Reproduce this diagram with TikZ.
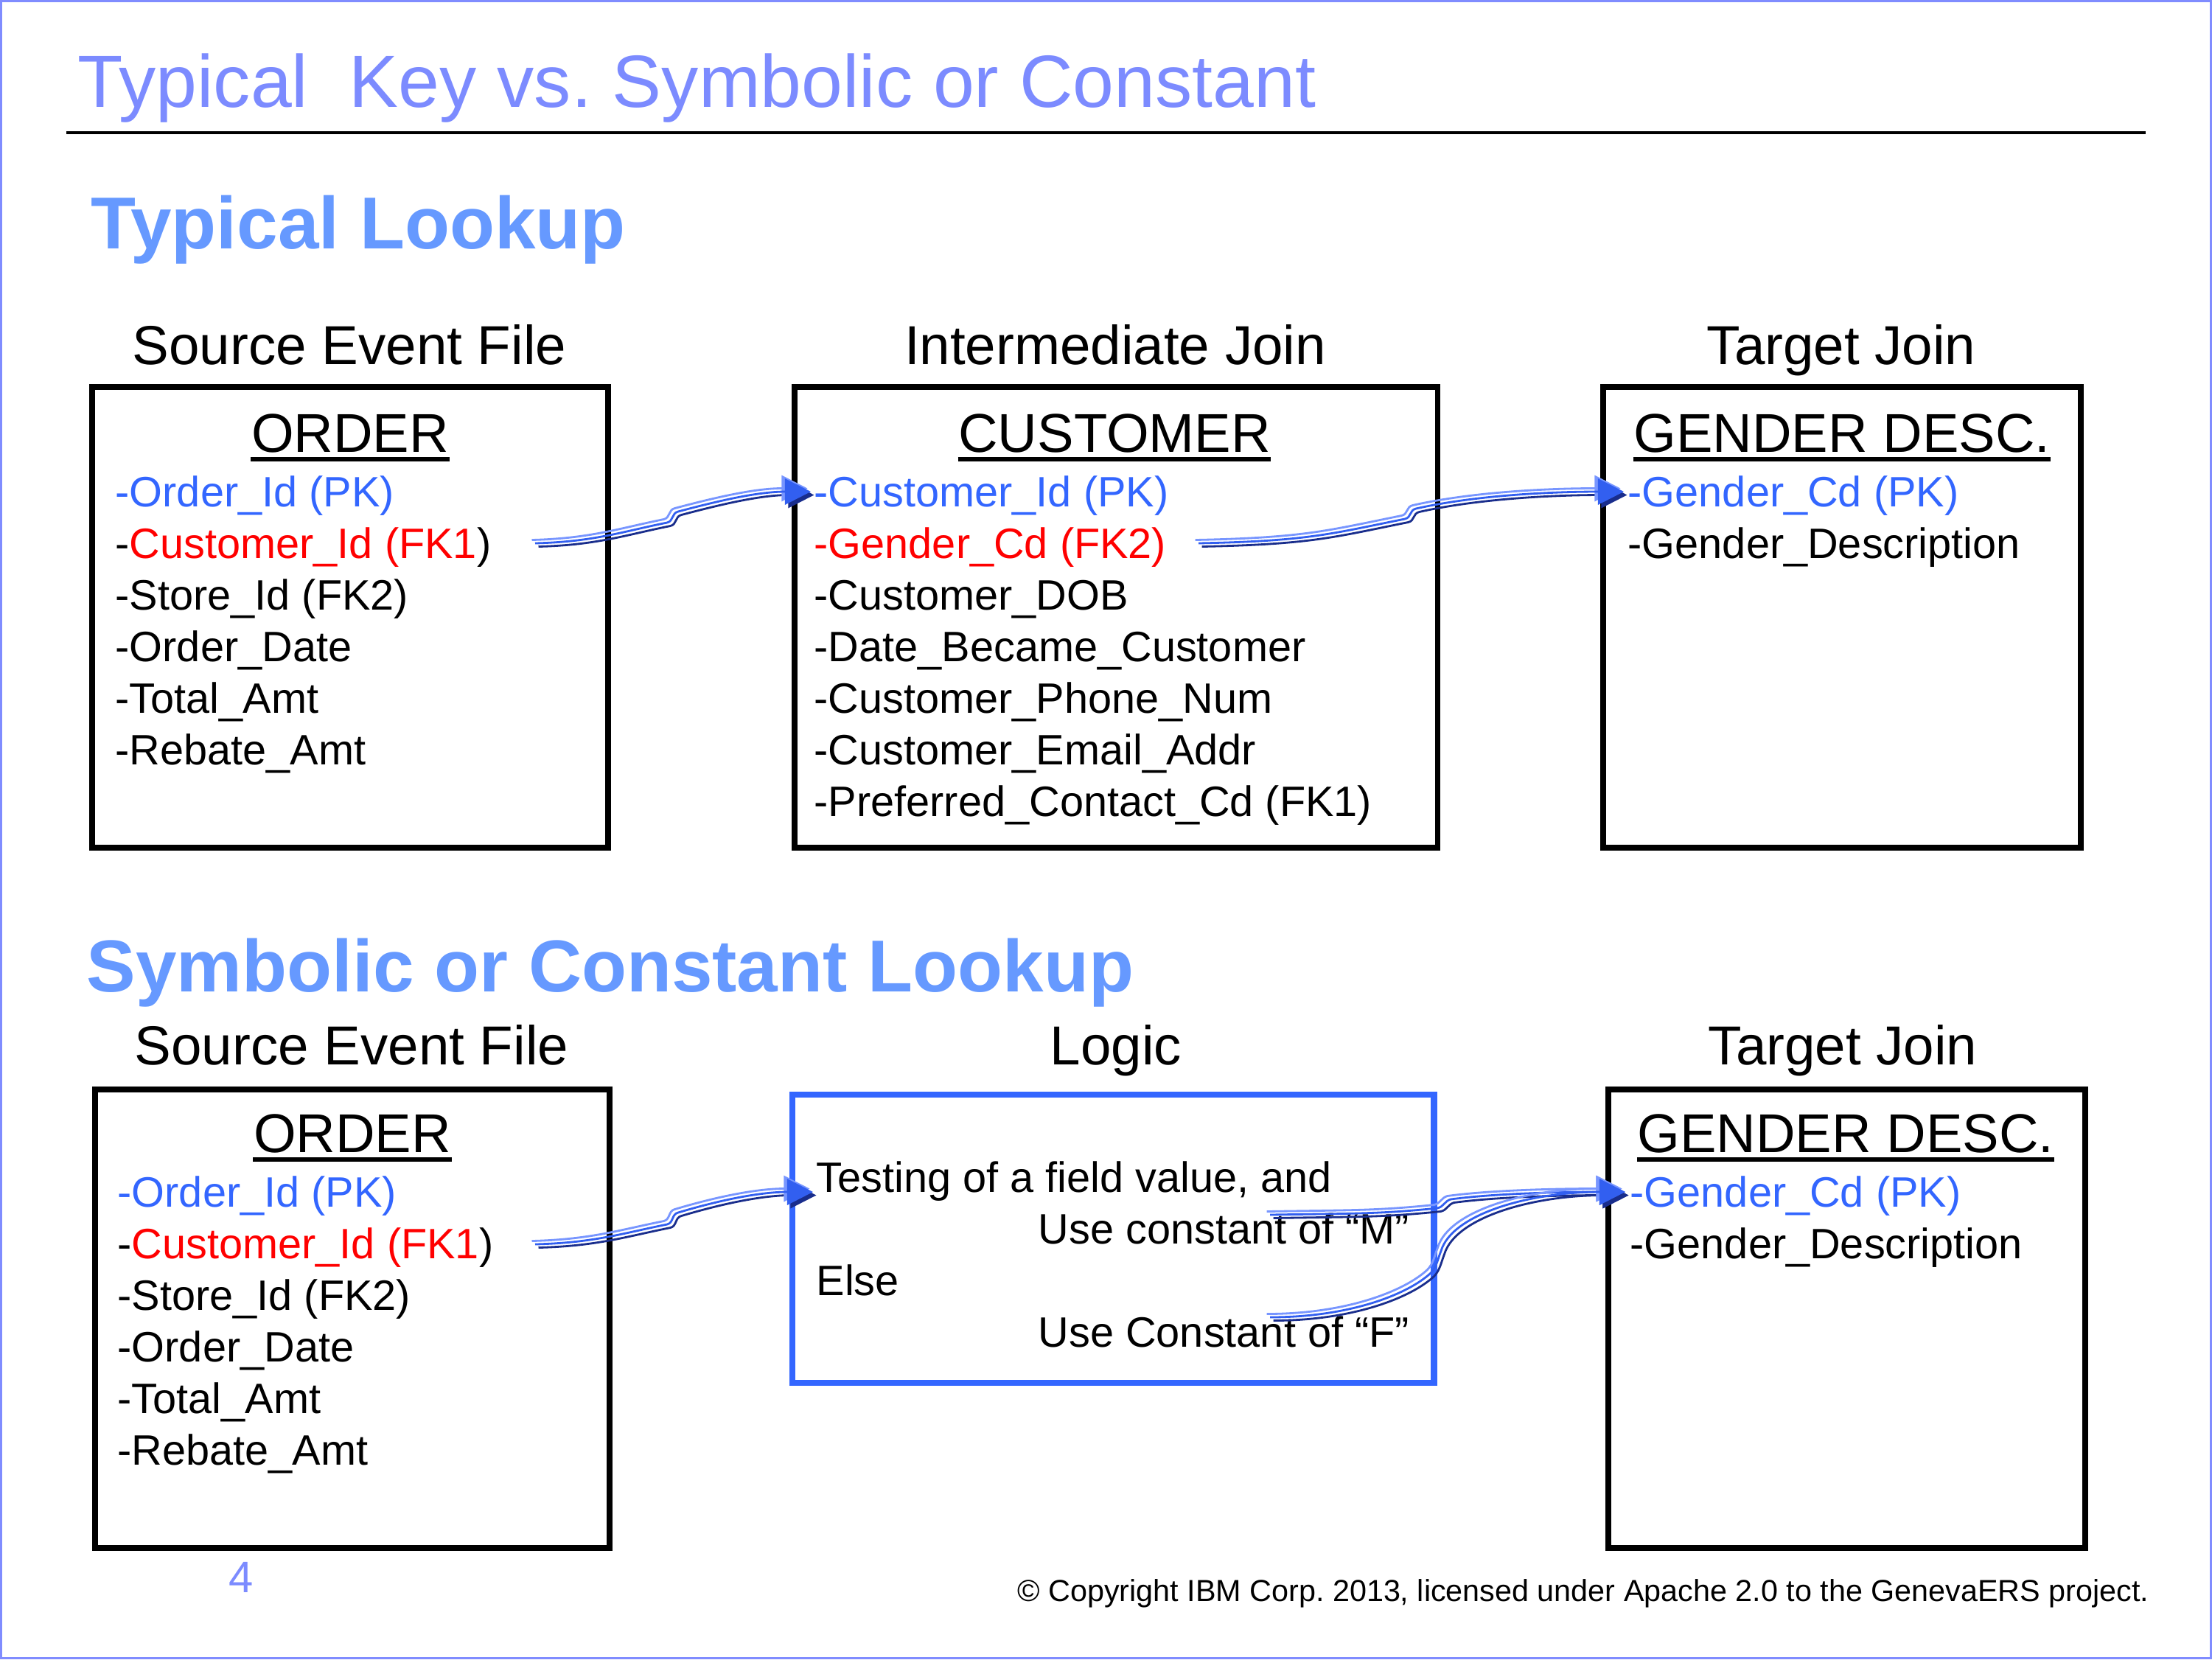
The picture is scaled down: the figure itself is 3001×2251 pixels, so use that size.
\documentclass[tikz,border=0pt]{standalone}
\usepackage{fontspec}
\setmainfont{Liberation Sans}
\usetikzlibrary{arrows.meta}
\frenchspacing
\definecolor{titleblue}{RGB}{124,139,255}
\definecolor{secblue}{RGB}{102,153,255}
\definecolor{keyblue}{RGB}{51,102,255}
\definecolor{keyred}{RGB}{255,0,0}
\definecolor{framecol}{RGB}{128,140,255}
\definecolor{riblightc}{RGB}{120,150,255}
\definecolor{ribmidc}{RGB}{50,95,240}
\definecolor{ribdarkc}{RGB}{25,45,140}
\newcommand\ribbon[1]{%
  \draw[ribdark, transform canvas={shift={(4.5,4.5)}}] #1;
  \draw[riblight, transform canvas={shift={(-4.5,-4.5)}}] #1;
  \draw[ribmid] #1;}
\begin{document}
\begin{tikzpicture}[x=0.01cm,y=-0.01cm,
  tbox/.style={draw=black, line width=2.15pt, inner sep=0pt},
  lbox/.style={draw=keyblue, line width=2.4pt, inner sep=0pt},
  item/.style={anchor=base west, inner sep=0pt, font=\fontsize{16.4}{19}\selectfont},
  head/.style={anchor=base, inner sep=0pt, font=\fontsize{21.2}{25}\selectfont},
  btitle/.style={anchor=base, inner sep=0pt, font=\fontsize{21.1}{25}\selectfont},
  sect/.style={anchor=base west, inner sep=0pt, text=secblue, font=\fontsize{28.4}{34}\selectfont\bfseries},
  uline/.style={line width=1.6pt},
  ribbase/.style={line width=0.8pt, line cap=butt, -{Triangle[length=10pt,width=10pt]}},
  ribdark/.style={ribbase, draw=ribdarkc},
  riblight/.style={ribbase, draw=riblightc},
  ribmid/.style={ribbase, draw=ribmidc}]
\useasboundingbox (0,0) rectangle (3001,2251);
% page frame
\draw[framecol, line width=0.9pt] (1.5,1.5) rectangle (2999.5,2249.5);
% title
\node[anchor=base west, inner sep=0pt, text=titleblue, font=\fontsize{28.55}{34}\selectfont] (title) at (105,145) {Typical\ \ Key vs. Symbolic or Constant};
\draw[line width=0.95pt] (90,180) -- (2911,180);
\node[sect] (sec1) at (123,337) {Typical Lookup};
\node[sect] (sec2) at (117,1345) {Symbolic or Constant Lookup};

% ---------- top row ----------
\node[head] (h1) at (474,494) {Source Event File};
\node[head] (h2) at (1513,494) {Intermediate Join};
\node[head] (h3) at (2498,494) {Target Join};

\node[tbox, minimum width=7cm, minimum height=6.25cm] (b1) at (475,837.5) {};
\node[tbox, minimum width=8.72cm, minimum height=6.25cm] (b2) at (1514,837.5) {};
\node[tbox, minimum width=6.48cm, minimum height=6.25cm] (b3) at (2499,837.5) {};

\node[btitle] (t1) at (475,613) {ORDER};
\draw[uline] ([shift={(0,10)}]t1.base west) -- ([shift={(0,10)}]t1.base east);
\node[item, text=keyblue] (o1a) at (156,687) {-Order\_Id (PK)};
\node[item] (o1c) at (156,757) {-\textcolor{keyred}{Customer\_Id (FK1}{)}};
\node[item] (o1s) at (156,827) {-Store\_Id (FK2)};
\node[item] (o1d) at (156,897) {-Order\_Date};
\node[item] (o1t) at (156,967) {-Total\_Amt};
\node[item] (o1r) at (156,1037) {-Rebate\_Amt};

\node[btitle] (t2) at (1512,613) {CUSTOMER};
\draw[uline] ([shift={(0,10)}]t2.base west) -- ([shift={(0,10)}]t2.base east);
\node[item, text=keyblue] (c1pk) at (1104,687) {-Customer\_Id (PK)};
\node[item, text=keyred] (c1g) at (1104,757) {-Gender\_Cd (FK2)};
\node[item] (c1b) at (1104,827) {-Customer\_DOB};
\node[item] (c1d) at (1104,897) {-Date\_Became\_Customer};
\node[item] (c1p) at (1104,967) {-Customer\_Phone\_Num};
\node[item] (c1e) at (1104,1037) {-Customer\_Email\_Addr};
\node[item] (c1c) at (1104,1107) {-Preferred\_Contact\_Cd (FK1)};

\node[btitle] (t3) at (2499,613) {GENDER DESC.};
\draw[uline] ([shift={(0,10)}]t3.base west) -- ([shift={(0,10)}]t3.base east);
\node[item, text=keyblue] (g1pk) at (2208,687) {-Gender\_Cd (PK)};
\node[item] (g1d) at (2208,757) {-Gender\_Description};

% ---------- bottom row ----------
\node[head] (h4) at (477,1444) {Source Event File};
\node[head] (h5) at (1514,1444) {Logic};
\node[head] (h6) at (2500,1444) {Target Join};

\node[tbox, minimum width=6.98cm, minimum height=6.22cm] (b4) at (478,1789) {};
\node[lbox, minimum width=8.7cm, minimum height=3.91cm] (b5) at (1510,1680.5) {};
\node[tbox, minimum width=6.47cm, minimum height=6.22cm] (b6) at (2505.5,1789) {};

\node[btitle] (t4) at (478,1563) {ORDER};
\draw[uline] ([shift={(0,10)}]t4.base west) -- ([shift={(0,10)}]t4.base east);
\node[item, text=keyblue] (o2a) at (159,1637) {-Order\_Id (PK)};
\node[item] (o2c) at (159,1707) {-\textcolor{keyred}{Customer\_Id (FK1}{)}};
\node[item] (o2s) at (159,1777) {-Store\_Id (FK2)};
\node[item] (o2d) at (159,1847) {-Order\_Date};
\node[item] (o2t) at (159,1917) {-Total\_Amt};
\node[item] (o2r) at (159,1987) {-Rebate\_Amt};

\node[item] (lt1) at (1107,1617) {Testing of a field value, and};
\node[item] (lm) at (1408,1687) {Use constant of “M”};
\node[item] (le) at (1107,1757) {Else};
\node[item] (lf) at (1408,1827) {Use Constant of “F”};

\node[btitle] (t6) at (2504,1563) {GENDER DESC.};
\draw[uline] ([shift={(0,10)}]t6.base west) -- ([shift={(0,10)}]t6.base east);
\node[item, text=keyblue] (g2pk) at (2211,1637) {-Gender\_Cd (PK)};
\node[item] (g2d) at (2211,1707) {-Gender\_Description};

% footer
\node[anchor=base, inner sep=0pt, text=titleblue, font=\fontsize{17}{20}\selectfont] (pg) at (327,2160) {4};
\node[anchor=base east, inner sep=0pt, font=\fontsize{11.75}{14}\selectfont] (copy) at (2916,2172) {© Copyright IBM Corp. 2013, licensed under Apache 2.0 to the GenevaERS project.};

% ---------- connectors ----------
\coordinate (a1s) at (726,737);
\coordinate (a1k) at (905,709);
\coordinate (a1m) at (920,694);
\ribbon{(a1s) .. controls +(80,-2) and +(-60,12) .. (a1k) .. controls +(9,-2) and +(-9,2) .. (a1m) .. controls +(60,-16) and +(-70,0) .. ([shift={(-4,-20)}]c1pk.base west)}

\coordinate (a2s) at (1626,737);
\coordinate (a2k) at (1906,704);
\coordinate (a2m) at (1921,690);
\ribbon{(a2s) .. controls +(150,-3) and +(-100,20) .. (a2k) .. controls +(9,-2) and +(-9,2) .. (a2m) .. controls +(80,-18) and +(-100,0) .. ([shift={(-5,-20)}]g1pk.base west)}

\coordinate (b1s) at (726,1688);
\coordinate (b1k) at (905,1661);
\coordinate (b1m) at (920,1645);
\ribbon{(b1s) .. controls +(80,-2) and +(-60,12) .. (b1k) .. controls +(9,-2) and +(-9,2) .. (b1m) .. controls +(60,-18) and +(-70,0) .. ([shift={(-4,0)}]lt1.base west)}

\coordinate (msrc) at (1723,1648);
\coordinate (mk) at (1950,1639);
\coordinate (mm) at (1968,1627);
\ribbon{(msrc) .. controls +(120,-2) and +(-80,8) .. (mk) .. controls +(9,-2) and +(-9,3) .. (mm) .. controls +(60,-8) and +(-90,0) .. ([shift={(-6,-20)}]g2pk.base west)}

\coordinate (fsrc) at (1723,1787);
\coordinate (fk) at (1941,1727);
\coordinate (fm) at (1955,1697);
\ribbon{(fsrc) .. controls +(110,0) and +(-30,28) .. (fk) .. controls +(8,-8) and +(-4,10) .. (fm) .. controls +(15,-50) and +(-130,0) .. ([shift={(-6,-20)}]g2pk.base west)}
\end{tikzpicture}
\end{document}
